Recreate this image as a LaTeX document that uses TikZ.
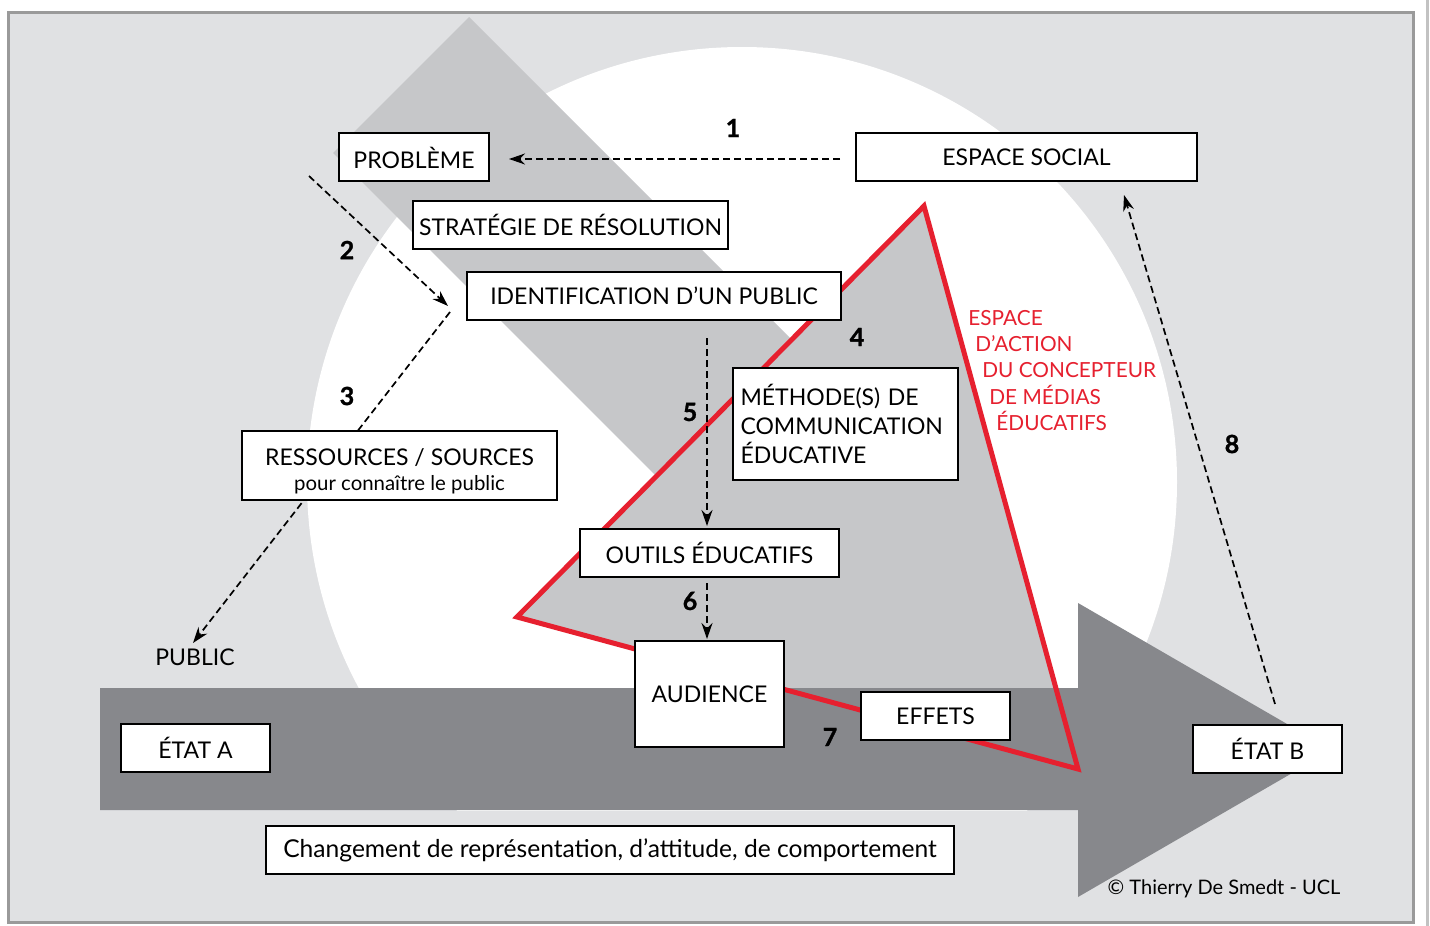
\documentclass[tikz,border=0pt]{standalone}
\usepackage{fontspec}
\setmainfont{Lato}
\newfontfamily\numfont{Lato}[BoldFeatures={FakeBold=1.2}]
\usetikzlibrary{arrows.meta}
\definecolor{bglight}{HTML}{E0E1E3}
\definecolor{bandgray}{HTML}{C6C7C9}
\definecolor{darkarrow}{HTML}{87888C}
\definecolor{framegray}{HTML}{9A9A9A}
\definecolor{redline}{HTML}{E6202F}
\begin{document}
\begin{tikzpicture}[x=0.5pt,y=-0.5pt,
  box/.style={draw=black, line width=1pt, fill=white, inner sep=0pt, font=\fontsize{11.5}{13}\selectfont},
  num/.style={font=\numfont\bfseries\fontsize{12.5}{14}\selectfont, inner sep=0pt},
  redtxt/.style={text=redline, anchor=base west, inner sep=0pt, font=\fontsize{10.4}{13}\selectfont},
  dasharrow/.style={draw=black, line width=0.85pt, dash pattern=on 3.5pt off 2pt, -{Stealth[length=8pt,width=5.5pt]}}
]
\useasboundingbox (0,0) rectangle (1430,926);
\fill[white] (0,0) rectangle (1430,926);
\draw[framegray, line width=1.5pt, fill=bglight] (8,12) rectangle (1413,922);
\draw[framegray!60, line width=1.5pt] (1427,0) -- (1427,926);
% white circle (hidden below the horizontal arrow)
\begin{scope}
  \clip (0,0) rectangle (1430,810);
  \fill[white] (742,482) circle[radius=217.5pt];
\end{scope}
% diagonal band
\fill[bandgray] (333,153) -- (469,17) -- (790,338) -- (655,475) -- cycle;
% triangle fill
\fill[bandgray] (924,206) -- (517,617) -- (1078,769) -- cycle;
% dark horizontal arrow
\fill[darkarrow] (100,688) -- (1078,688) -- (1078,603) -- (1332,750) -- (1078,897) -- (1078,810) -- (100,810) -- cycle;
% red triangle outline
\draw[redline, line width=2.5pt, line join=miter] (924,206) -- (517,617) -- (1078,769) -- cycle;

% coordinates for dashed connectors
\coordinate (a1s) at (840,159);
\coordinate (a1e) at (509,159);
\coordinate (a2s) at (309,176);
\coordinate (a2e) at (448,306);
\coordinate (a3s) at (450,312);
\coordinate (a3e) at (193,643);
\coordinate (a5s) at (707,338);
\coordinate (a5e) at (707,526);
\coordinate (a6s) at (707,583);
\coordinate (a6e) at (707,639);
\coordinate (a8s) at (1275,704);
\coordinate (a8e) at (1124,195);

\draw[dasharrow] (a1s) -- (a1e);
\draw[dasharrow] (a2s) -- (a2e);
\draw[dasharrow] (a3s) -- (a3e);
\draw[dasharrow] (a5s) -- (a5e);
\draw[dasharrow] (a6s) -- (a6e);
\draw[dasharrow] (a8s) -- (a8e);

% boxes
\node[box, minimum width=75pt, minimum height=24pt, text depth=0pt] (prob) at (414,157) {\raisebox{-1pt}{PROBLÈME}};
\node[box, minimum width=170.5pt, minimum height=24pt] (esp) at (1026.5,157) {\raisebox{-1pt}{ESPACE SOCIAL}};
\node[box, minimum width=157.5pt, minimum height=24pt] (strat) at (570.5,225) {\raisebox{-0.5pt}{STRATÉGIE DE RÉSOLUTION}};
\node[box, minimum width=187pt, minimum height=24pt] (ident) at (654,296) {\raisebox{-1pt}{IDENTIFICATION D’UN PUBLIC}};
\node[box, minimum width=112.5pt, minimum height=56pt, align=left, text width=105pt, font=\fontsize{11.5}{14.5}\selectfont] (meth) at (845.5,424) {MÉTHODE(S) DE\\COMMUNICATION\\ÉDUCATIVE};
\node[box, minimum width=129.5pt, minimum height=24pt] (outils) at (709.5,553) {OUTILS ÉDUCATIFS};
\node[box, minimum width=74.5pt, minimum height=53pt] (aud) at (709.5,694) {\raisebox{-0.5pt}{AUDIENCE}};
\node[box, minimum width=74.5pt, minimum height=24pt] (eff) at (935.5,716) {\raisebox{-0.5pt}{EFFETS}};
\node[box, minimum width=74.5pt, minimum height=24pt] (etata) at (195.5,748) {ÉTAT A};
\node[box, minimum width=74.5pt, minimum height=24pt] (etatb) at (1267.5,749) {ÉTAT B};
\node[box, minimum width=157.5pt, minimum height=34.5pt] (res) at (399.5,465.5) {};
\node[anchor=base, inner sep=0pt, font=\fontsize{11.5}{13}\selectfont] (res1) at (399.5,465) {RESSOURCES / SOURCES};
\node[anchor=base, inner sep=0pt, font=\fontsize{10.2}{12}\selectfont] (res2) at (399.5,490) {pour connaître le public};
\node[box, minimum width=344pt, minimum height=24pt, font=\fontsize{12.3}{14}\selectfont] (chg) at (610,850) {\raisebox{-0.5pt}{Changement de représentation, d’attitude, de comportement}};

% plain texts
\node[inner sep=0pt, font=\fontsize{11.5}{13}\selectfont] (pub) at (195,657) {PUBLIC};
\node[inner sep=0pt, font=\fontsize{10}{12}\selectfont] (copy) at (1224,889) {© Thierry De Smedt - UCL};

% red label
\node[redtxt] (r1) at (968,325) {ESPACE};
\node[redtxt] (r2) at (975,351) {D’ACTION};
\node[redtxt] (r3) at (982,377) {DU CONCEPTEUR};
\node[redtxt] (r4) at (989,404) {DE MÉDIAS};
\node[redtxt] (r5) at (996,430) {ÉDUCATIFS};

% numbers
\node[num] (n1) at (733,128) {1};
\node[num] (n2) at (347,250) {2};
\node[num] (n3) at (347,396) {3};
\node[num] (n4) at (857,337) {4};
\node[num] (n5) at (690,412) {5};
\node[num] (n6) at (690,601) {6};
\node[num] (n7) at (830,737) {7};
\node[num] (n8) at (1232,444) {8};
\end{tikzpicture}
\end{document}
